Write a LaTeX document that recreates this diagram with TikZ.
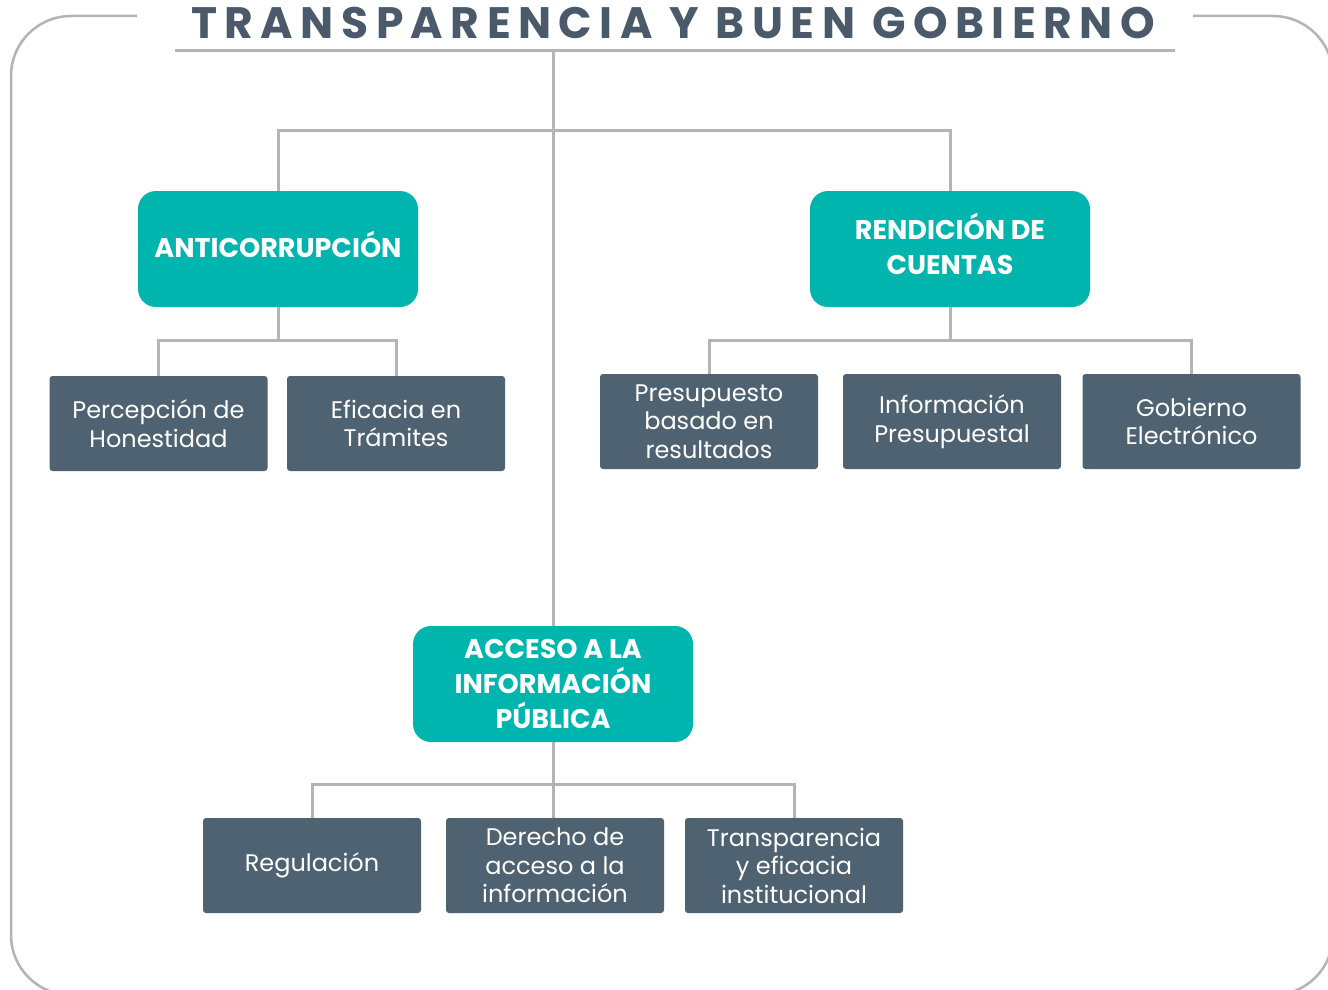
\documentclass[tikz,border=0pt]{standalone}
\usepackage{fontspec}
\setmainfont{Poppins}
\newfontfamily\titlefont[LetterSpace=17]{Poppins}
\definecolor{teal1}{HTML}{00B5AD}
\definecolor{slate1}{HTML}{4F6272}
\definecolor{titlec}{HTML}{4A5A6A}
\definecolor{linec}{HTML}{B4B4B6}
\begin{document}
\begin{tikzpicture}[x=1pt,y=-1pt,
  conn/.style={draw=linec,line width=3pt},
  mainbox/.style={fill=teal1,rounded corners=18pt,minimum width=280pt,minimum height=116pt,
    text=white,font=\fontsize{27}{35}\selectfont\bfseries,align=center,inner sep=0pt},
  leafbox/.style={fill=slate1,rounded corners=3pt,minimum width=218pt,minimum height=95pt,
    text=white,font=\fontsize{24}{28.5}\selectfont,align=center,inner sep=0pt}]
\useasboundingbox (0,0) rectangle (1328,990);
\clip (0,0) rectangle (1328,990);
\fill[white] (0,0) rectangle (1328,990);
% frame
\draw[draw=linec,line width=2.5pt,rounded corners=60pt] (137,16) -- (11,16) -- (11,995) -- (1333,995) -- (1333,16) -- (1193,16);
% title
\node[font=\titlefont\fontsize{44}{44}\selectfont\bfseries,text=titlec,inner sep=0pt] (title) at (673,23) {TRANSPARENCIA Y BUEN GOBIERNO};
\coordinate (ul1) at (175,51);
\coordinate (ul2) at (1175,51);
\draw[draw=linec,line width=3pt] (ul1) -- (ul2);
\coordinate (top) at (553,51);
% main boxes
\node[mainbox] (anti) at (278,249) {\raisebox{9pt}{ANTICORRUPCIÓN}};
\node[mainbox] (rend) at (950,249) {\raisebox{1pt}{\begin{tabular}{@{}c@{}}RENDICIÓN DE\\CUENTAS\end{tabular}}};
\node[mainbox] (acc) at (553,684) {ACCESO A LA\\INFORMACIÓN\\PÚBLICA};
% leaves
\node[leafbox] (perc) at (158.5,423.5) {Percepción de\\Honestidad};
\node[leafbox] (efic) at (396,423.5) {Eficacia en\\Trámites};
\node[leafbox] (pres) at (709,421.5) {Presupuesto\\basado en\\resultados};
\node[leafbox] (info) at (952,421.5) {Información\\Presupuestal};
\node[leafbox] (gob) at (1191.5,421.5) {Gobierno\\Electrónico};
\node[leafbox] (reg) at (312,865.5) {Regulación};
\node[leafbox] (der) at (555,865.5) {Derecho de\\acceso a la\\información};
\node[leafbox] (trans) at (794,865.5) {Transparencia\\y eficacia\\institucional};
% connectors
\draw[conn] (top) -- (acc.north);
\draw[conn] (anti.north) -- ++(0,-60) -| (rend.north);
\draw[conn] (anti.south) -- ++(0,33) -| (perc.north);
\draw[conn] (anti.south) -- ++(0,33) -| (efic.north);
\draw[conn] (rend.south) -- ++(0,33) -| (pres.north);
\draw[conn] (rend.south) -- ++(0,33) -| (gob.north);
\draw[conn] (acc.south) -- ++(0,42) -| (reg.north);
\draw[conn] (acc.south) -- ++(0,42) -| (trans.north);
\draw[conn] (acc.south) -- (acc.south |- der.north);
\end{tikzpicture}
\end{document}
